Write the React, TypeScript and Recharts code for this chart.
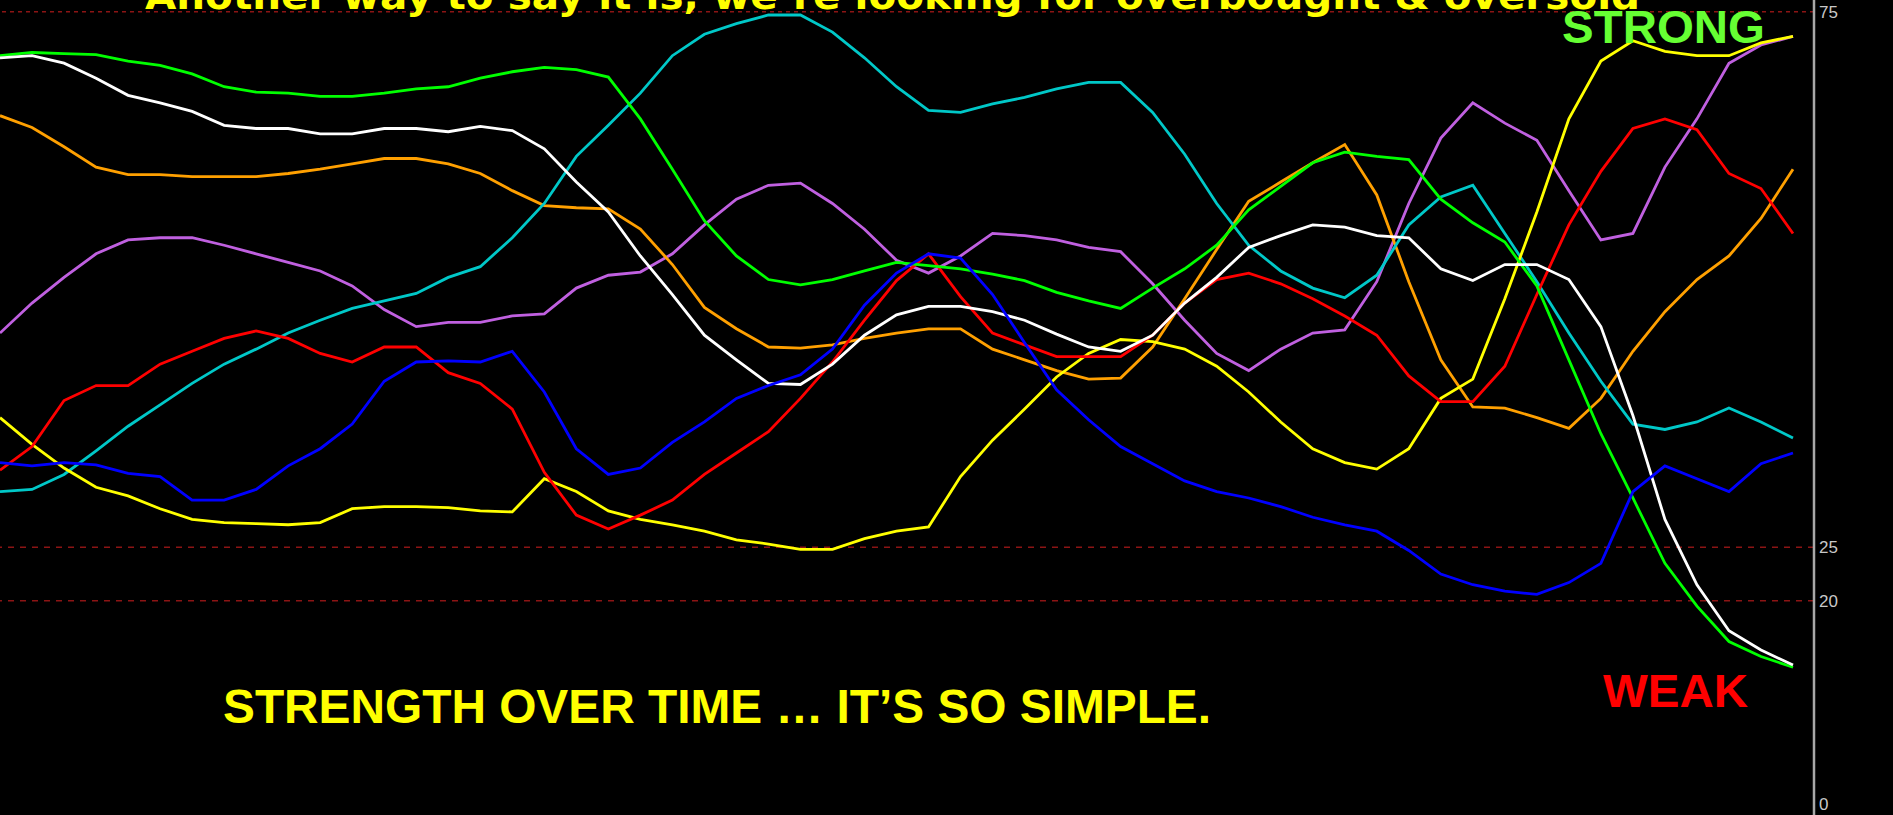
import { LineChart, Line, XAxis, YAxis, ReferenceLine } from "recharts";

// strength readings, one value per bar (57 bars)
const greenLine = [
  70.9, 71.2, 71.1, 71.0, 70.4, 70.0, 69.2, 68.0, 67.5, 67.4, 67.1, 67.1, 67.4, 67.8, 68.0,
  68.8, 69.4, 69.8, 69.6, 68.9, 65.0, 60.3, 55.5, 52.2, 50.0, 49.5, 50.0, 50.8, 51.6,
  51.3, 51.0, 50.5, 49.9, 48.8, 48.0, 47.3, 49.2, 51.0, 53.2, 56.5, 58.7, 60.9, 61.9,
  61.5, 61.2, 57.5, 55.3, 53.5, 49.4, 42.5, 35.6, 29.6, 23.5, 19.5, 16.2, 14.8, 13.8,
];
const whiteLine = [
  70.7, 70.9, 70.2, 68.8, 67.2, 66.5, 65.7, 64.4, 64.1, 64.1, 63.6, 63.6, 64.1, 64.1, 63.8,
  64.3, 63.9, 62.2, 59.1, 56.3, 52.2, 48.6, 44.8, 42.5, 40.3, 40.2, 42.1, 44.8, 46.7,
  47.5, 47.5, 47.0, 46.2, 44.9, 43.7, 43.3, 44.8, 47.8, 50.2, 53.0, 54.1, 55.1, 54.9,
  54.1, 53.9, 51.0, 49.9, 51.4, 51.4, 50.0, 45.6, 37.3, 27.6, 21.5, 17.2, 15.4, 14.0,
];
const orangeLine = [
  65.3, 64.2, 62.4, 60.5, 59.8, 59.8, 59.6, 59.6, 59.6, 59.9, 60.3, 60.8, 61.3, 61.3, 60.8,
  59.9, 58.3, 56.9, 56.7, 56.6, 54.7, 51.4, 47.4, 45.4, 43.7, 43.6, 43.9, 44.5, 45.0,
  45.4, 45.4, 43.5, 42.5, 41.5, 40.7, 40.8, 43.7, 48.2, 52.8, 57.3, 59.1, 60.9, 62.6,
  57.9, 49.8, 42.5, 38.1, 38.0, 37.1, 36.1, 38.9, 43.3, 47.0, 50.0, 52.2, 55.7, 60.3,
];
const purpleLine = [
  45.0, 47.8, 50.2, 52.4, 53.7, 53.9, 53.9, 53.2, 52.4, 51.6, 50.8, 49.4, 47.2, 45.6, 46.0,
  46.0, 46.6, 46.8, 49.2, 50.4, 50.7, 52.4, 55.1, 57.5, 58.8, 59.0, 57.1, 54.7, 51.8,
  50.6, 52.2, 54.3, 54.1, 53.7, 53.0, 52.6, 49.6, 46.2, 43.1, 41.5, 43.5, 45.0, 45.3,
  49.8, 57.1, 63.2, 66.5, 64.6, 63.0, 58.3, 53.7, 54.3, 60.5, 65.0, 70.2, 71.9, 72.7,
];
const cyanLine = [
  30.2, 30.4, 31.8, 34.0, 36.3, 38.3, 40.3, 42.1, 43.5, 45.0, 46.2, 47.3, 48.0, 48.7, 50.2,
  51.2, 53.9, 57.1, 61.5, 64.4, 67.4, 70.9, 72.9, 73.9, 74.7, 74.7, 73.1, 70.7, 68.0,
  65.8, 65.6, 66.4, 67.0, 67.8, 68.4, 68.4, 65.6, 61.7, 57.1, 53.2, 50.8, 49.2, 48.3,
  50.4, 55.1, 57.7, 58.8, 54.3, 49.8, 45.0, 40.5, 36.5, 36.0, 36.7, 38.0, 36.7, 35.2,
];
const redLine = [
  32.2, 34.4, 38.7, 40.1, 40.1, 42.1, 43.3, 44.5, 45.2, 44.5, 43.1, 42.3, 43.7, 43.7, 41.3,
  40.3, 37.9, 32.0, 28.0, 26.7, 28.0, 29.4, 31.8, 33.8, 35.8, 38.9, 42.3, 46.2, 49.9,
  52.4, 48.4, 45.0, 43.9, 42.8, 42.8, 42.8, 44.8, 47.8, 50.0, 50.6, 49.6, 48.2, 46.6,
  44.8, 41.0, 38.6, 38.6, 41.9, 48.6, 55.1, 60.1, 64.1, 65.0, 64.0, 59.9, 58.5, 54.3,
];
const blueLine = [
  32.9, 32.6, 32.9, 32.7, 31.9, 31.6, 29.4, 29.4, 30.4, 32.6, 34.2, 36.5, 40.5, 42.3, 42.4,
  42.3, 43.3, 39.5, 34.2, 31.8, 32.4, 34.8, 36.7, 38.9, 40.1, 41.1, 43.5, 47.6, 50.6,
  52.4, 52.0, 48.6, 44.1, 39.7, 36.9, 34.4, 32.8, 31.2, 30.2, 29.6, 28.8, 27.8, 27.1,
  26.5, 24.7, 22.5, 21.5, 20.9, 20.6, 21.7, 23.5, 30.2, 32.6, 31.4, 30.2, 32.8, 33.8,
];
const yellowLine = [
  37.1, 34.6, 32.4, 30.6, 29.8, 28.6, 27.6, 27.3, 27.2, 27.1, 27.3, 28.6, 28.8, 28.8, 28.7,
  28.4, 28.3, 31.4, 30.2, 28.4, 27.6, 27.1, 26.5, 25.7, 25.3, 24.8, 24.8, 25.8, 26.5,
  26.9, 31.6, 35.0, 37.9, 40.9, 43.1, 44.4, 44.2, 43.5, 41.9, 39.5, 36.7, 34.2, 32.9,
  32.3, 34.2, 38.9, 40.7, 48.2, 56.3, 65.0, 70.4, 72.3, 71.3, 70.9, 70.9, 72.1, 72.7,
];

const yTicks = [0, 20, 25, 75];
const guideLevels = [75, 25, 20];

const data = greenLine.map((_, i) => ({
  idx: i,
  green: greenLine[i],
  white: whiteLine[i],
  orange: orangeLine[i],
  purple: purpleLine[i],
  cyan: cyanLine[i],
  red: redLine[i],
  blue: blueLine[i],
  yellow: yellowLine[i],
}));

// drawing order matters a little where lines overlap
const series = [
  { key: "purple", color: "#c060e0" },
  { key: "orange", color: "#ffa000" },
  { key: "cyan", color: "#00c8c8" },
  { key: "yellow", color: "#ffff00" },
  { key: "red", color: "#ff0000" },
  { key: "green", color: "#00ff00" },
  { key: "white", color: "#ffffff" },
  { key: "blue", color: "#0000ff" },
];

function AxisTick(props: any) {
  const { x, y, payload } = props;
  // keep the "0" label inside the frame
  const ty = Math.min(y, 804);
  return (
    <text
      x={x - 3}
      y={ty}
      dy={6}
      textAnchor="start"
      fill="#c8c8c8"
      fontSize={17}
      fontFamily="'Liberation Sans Narrow', 'Liberation Sans', sans-serif"
    >
      {payload.value}
    </text>
  );
}

export default function App() {
  return (
    <div
      style={{
        position: "absolute",
        left: 0,
        top: 0,
        width: 1893,
        height: 815,
        background: "#000",
        overflow: "hidden",
      }}
    >
      <LineChart
        width={1893}
        height={815}
        data={data}
        margin={{ top: 0, right: 0, bottom: 0, left: 0 }}
      >
        <XAxis
          type="number"
          dataKey="idx"
          domain={[0, 56]}
          hide
          padding={{ left: 0, right: 21 }}
        />
        <YAxis
          orientation="right"
          width={79}
          domain={[0, 76.1]}
          ticks={yTicks}
          allowDataOverflow
          tickLine={false}
          axisLine={{ stroke: "#a8a8a8", strokeWidth: 2.5 }}
          tick={<AxisTick />}
          interval={0}
        />
        {guideLevels.map((lvl) => (
          <ReferenceLine
            key={lvl}
            y={lvl}
            stroke="#8c1414"
            strokeWidth={1.5}
            strokeDasharray={lvl === 75 ? "4 4" : "6 6"}
          />
        ))}
        {series.map((s) => (
          <Line
            key={s.key}
            type="linear"
            dataKey={s.key}
            stroke={s.color}
            strokeWidth={2.8}
            dot={false}
            activeDot={false}
            isAnimationActive={false}
          />
        ))}
      </LineChart>
      <svg
        width={1893}
        height={815}
        style={{ position: "absolute", left: 0, top: 0, pointerEvents: "none" }}
      >
        {/* headline is cropped at the top edge in the source slide */}
        <text
          x={145}
          y={9}
          fill="#ffff00"
          fontSize={38}
          fontWeight="bold"
          fontFamily="'DejaVu Sans', sans-serif"
          textLength={1495}
          lengthAdjust="spacingAndGlyphs"
        >
          Another way to say it is, we’re looking for overbought &amp; oversold
        </text>
        <text
          x={1562}
          y={43}
          fill="#66ff33"
          fontSize={46}
          fontWeight="bold"
          fontFamily="'Liberation Sans', Arial, sans-serif"
          textLength={203}
          lengthAdjust="spacingAndGlyphs"
        >
          STRONG
        </text>
        <text
          x={1603}
          y={707}
          fill="#ff0000"
          fontSize={47}
          fontWeight="bold"
          fontFamily="'Liberation Sans', Arial, sans-serif"
          textLength={145}
          lengthAdjust="spacingAndGlyphs"
        >
          WEAK
        </text>
        <text
          x={223}
          y={723}
          fill="#ffff00"
          fontSize={48}
          fontWeight="bold"
          fontFamily="'Liberation Sans', Arial, sans-serif"
          textLength={988}
          lengthAdjust="spacingAndGlyphs"
        >
          STRENGTH OVER TIME … IT’S SO SIMPLE.
        </text>
      </svg>
    </div>
  );
}
